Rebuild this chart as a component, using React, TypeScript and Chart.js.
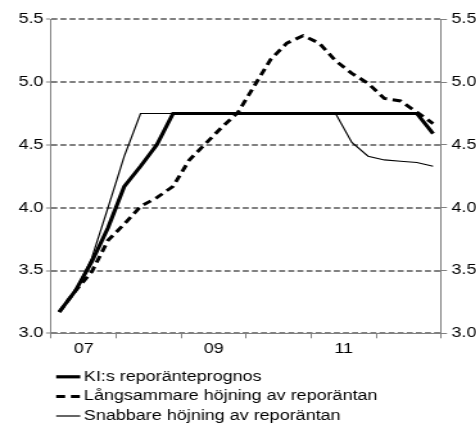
import React, { useEffect, useRef } from 'react';
import { Chart, registerables } from 'chart.js';

Chart.register(...registerables);

// Quarterly observations, 2007 K1 – 2012 K4
const quarters = [
  '2007K1', '2007K2', '2007K3', '2007K4',
  '2008K1', '2008K2', '2008K3', '2008K4',
  '2009K1', '2009K2', '2009K3', '2009K4',
  '2010K1', '2010K2', '2010K3', '2010K4',
  '2011K1', '2011K2', '2011K3', '2011K4',
  '2012K1', '2012K2', '2012K3', '2012K4',
];

const firstYear = 2007;
const labelYears = [2007, 2009, 2011];
const yearTickLabels = ['07', '09', '11'];

const kiPrognos = [
  3.17, 3.34, 3.57, 3.84, 4.17, 4.33, 4.50, 4.75,
  4.75, 4.75, 4.75, 4.75, 4.75, 4.75, 4.75, 4.75,
  4.75, 4.75, 4.75, 4.75, 4.75, 4.75, 4.75, 4.59,
];

const langsammare = [
  3.17, 3.34, 3.49, 3.74, 3.87, 4.01, 4.08, 4.17,
  4.38, 4.51, 4.64, 4.76, 4.97, 5.18, 5.31, 5.37,
  5.31, 5.17, 5.07, 4.99, 4.87, 4.85, 4.76, 4.67,
];

const snabbare = [
  3.17, 3.34, 3.60, 4.00, 4.41, 4.75, 4.75, 4.75,
  4.75, 4.75, 4.75, 4.75, 4.75, 4.75, 4.75, 4.75,
  4.75, 4.75, 4.52, 4.41, 4.38, 4.37, 4.36, 4.33,
];

const seriesLabels = [
  'KI:s reporänteprognos',
  'Långsammare höjning av reporäntan',
  'Snabbare höjning av reporäntan',
];

const yTicks = [3.0, 3.5, 4.0, 4.5, 5.0, 5.5];

const STRETCH = 1.28;
const PAGE_W = 476;
const PAGE_H = 424;
const W = PAGE_W / STRETCH;
const GRAY = '#808080';
const FONT = '"Liberation Sans", Arial, Helvetica, sans-serif';

const toPoints = (vals: number[]) => vals.map((v, i) => ({ x: i + 0.5, y: v }));

const legendPlugin = {
  id: 'customLegend',
  afterDraw(chart: any) {
    const { ctx, chartArea } = chart;
    ctx.save();
    chart.data.datasets.forEach((ds: any, i: number) => {
      const y = chartArea.bottom + 43.5 + i * 19.6;
      const x0 = chartArea.left + 3.9;
      ctx.beginPath();
      ctx.setLineDash(ds.borderDash || []);
      ctx.lineWidth = ds.borderWidth;
      ctx.strokeStyle = ds.borderColor;
      ctx.moveTo(x0, y);
      ctx.lineTo(x0 + 18.8, y);
      ctx.stroke();
      ctx.setLineDash([]);
      ctx.fillStyle = '#000';
      ctx.font = `14px ${FONT}`;
      ctx.textBaseline = 'middle';
      ctx.textAlign = 'left';
      ctx.fillText(ds.label, x0 + 21.6, y);
    });
    ctx.restore();
  },
};

export default function App() {
  const canvasRef = useRef<HTMLCanvasElement | null>(null);

  useEffect(() => {
    if (!canvasRef.current) return;
    Chart.defaults.font.family = FONT;
    Chart.defaults.font.size = 14;
    Chart.defaults.color = '#000';

    const chart = new Chart(canvasRef.current, {
      type: 'line',
      data: {
        datasets: [
          {
            label: seriesLabels[0],
            data: toPoints(kiPrognos),
            borderColor: '#000',
            borderWidth: 3.2,
            pointRadius: 0,
            tension: 0,
          },
          {
            label: seriesLabels[1],
            data: toPoints(langsammare),
            borderColor: '#000',
            borderWidth: 3,
            borderDash: [7, 4.5],
            pointRadius: 0,
            tension: 0,
          },
          {
            label: seriesLabels[2],
            data: toPoints(snabbare),
            borderColor: '#000',
            borderWidth: 1.2,
            pointRadius: 0,
            tension: 0,
          },
        ],
      },
      options: {
        animation: false,
        responsive: true,
        maintainAspectRatio: false,
        layout: { padding: { top: 19.3, left: 0, right: 0, bottom: 0 } },
        plugins: {
          legend: { display: false },
          tooltip: { enabled: false },
        },
        scales: {
          x: {
            type: 'linear',
            position: 'bottom',
            min: 0,
            max: quarters.length,
            afterBuildTicks: (scale: any) => {
              const t = [];
              for (let v = 0; v <= quarters.length; v += 2) t.push({ value: v });
              scale.ticks = t;
            },
            ticks: {
              autoSkip: false,
              maxRotation: 0,
              padding: 2,
              color: '#000',
              font: { size: 14 },
              callback: (value: any) => {
                const idx = labelYears.findIndex((y) => (y - firstYear) * 4 + 2 === value);
                return idx >= 0 ? yearTickLabels[idx] : '';
              },
            },
            grid: {
              drawOnChartArea: false,
              drawTicks: true,
              tickLength: 5,
              lineWidth: 1,
              color: (ctx: any) => (ctx.tick && ctx.tick.value % 4 === 0 ? GRAY : 'rgba(0,0,0,0)'),
              tickColor: (ctx: any) => (ctx.tick && ctx.tick.value % 4 === 0 ? GRAY : 'rgba(0,0,0,0)'),
            },
            border: { display: true, color: GRAY, width: 1 },
            afterFit: (scale: any) => {
              scale.height = PAGE_H - 333.3;
            },
          },
          y: {
            position: 'left',
            min: yTicks[0],
            max: yTicks[yTicks.length - 1],
            afterBuildTicks: (scale: any) => {
              scale.ticks = yTicks.map((v) => ({ value: v }));
            },
            ticks: {
              padding: 2,
              color: '#000',
              font: { size: 14 },
              callback: (v: any) => Number(v).toFixed(1),
            },
            grid: {
              color: GRAY,
              lineWidth: 2,
              tickLength: 4,
              tickColor: GRAY,
              tickWidth: 1,
              drawTicks: true,
            },
            border: { display: true, color: GRAY, width: 1, dash: [4.7, 2.4] },
            afterFit: (scale: any) => {
              scale.width = 51 / STRETCH;
            },
          },
          y2: {
            position: 'right',
            min: yTicks[0],
            max: yTicks[yTicks.length - 1],
            afterBuildTicks: (scale: any) => {
              scale.ticks = yTicks.map((v) => ({ value: v }));
            },
            ticks: {
              padding: 3.5,
              color: '#000',
              font: { size: 14 },
              callback: (v: any) => Number(v).toFixed(1),
            },
            grid: {
              drawOnChartArea: false,
              drawTicks: true,
              tickLength: 4.5,
              tickColor: GRAY,
              tickWidth: 1,
              color: GRAY,
            },
            border: { display: true, color: GRAY, width: 1 },
            afterFit: (scale: any) => {
              scale.width = (PAGE_W - 440) / STRETCH;
            },
          },
        },
      },
      plugins: [legendPlugin],
    } as any);

    return () => chart.destroy();
  }, []);

  return (
    <div
      style={{
        position: 'absolute',
        left: 0,
        top: 0,
        width: W,
        height: PAGE_H,
        transform: `scaleX(${STRETCH})`,
        transformOrigin: '0 0',
      }}
    >
      <canvas ref={canvasRef} />
    </div>
  );
}
